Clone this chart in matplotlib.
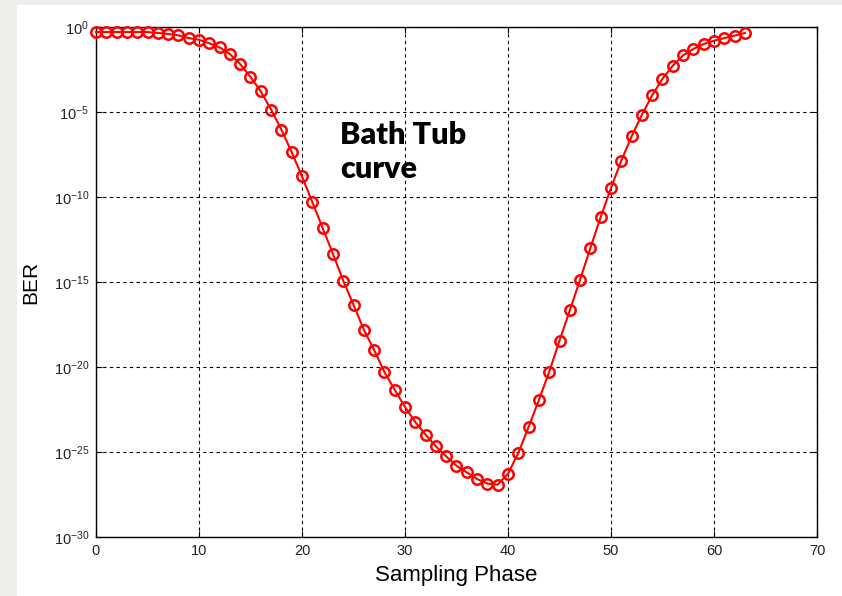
import numpy as np
import matplotlib
matplotlib.use("Agg")
import matplotlib.pyplot as plt
from matplotlib.patches import Rectangle

# sampling phase index and log10(BER)
phase = list(range(64))
log_ber = [-0.30, -0.30, -0.30, -0.30, -0.30, -0.30, -0.35, -0.41, -0.49, -0.65,
           -0.75, -0.96, -1.20, -1.59, -2.18, -2.94, -3.79, -4.86, -6.04, -7.36,
           -8.79, -10.29, -11.82, -13.34, -14.92, -16.34, -17.80, -19.00, -20.29, -21.34,
           -22.35, -23.24, -23.98, -24.67, -25.26, -25.81, -26.20, -26.59, -26.86, -26.92,
           -26.28, -25.06, -23.53, -21.94, -20.29, -18.45, -16.67, -14.86, -13.00, -11.18,
           -9.47, -7.86, -6.43, -5.16, -4.02, -3.04, -2.28, -1.67, -1.29, -1.00,
           -0.81, -0.65, -0.51, -0.35]
ber = 10.0 ** np.array(log_ber)

xticks = [0, 10, 20, 30, 40, 50, 60, 70]
yticks = [1e-30, 1e-25, 1e-20, 1e-15, 1e-10, 1e-5, 1e0]
ytick_labels = [r"$10^{-30}$", r"$10^{-25}$", r"$10^{-20}$", r"$10^{-15}$",
                r"$10^{-10}$", r"$10^{-5}$", r"$10^{0}$"]

plt.rcParams['font.family'] = ['Liberation Sans', 'DejaVu Sans']
plt.rcParams['mathtext.fontset'] = 'custom'
plt.rcParams['mathtext.rm'] = 'Liberation Sans'
plt.rcParams['mathtext.it'] = 'Liberation Sans'
plt.rcParams['mathtext.default'] = 'regular'

fig = plt.figure(figsize=(8.42, 5.96), dpi=100, facecolor='#eeeeea')
# white slide panel behind the chart
fig.patches.append(Rectangle((17 / 842, 0), 1, 1 - 5 / 596, transform=fig.transFigure,
                             facecolor='white', edgecolor='none', zorder=-10))

ax = fig.add_axes([96 / 842, 1 - 537 / 596, 721 / 842, 510 / 596])
ax.set_yscale('log')
ax.plot(phase, ber, '-o', color='red', lw=1.5, ms=7.5, mfc='none', mew=1.8,
        clip_on=False, zorder=3)

ax.set_xlim(0, 70)
ax.set_ylim(1e-30, 1e0)
ax.set_xticks(xticks)
ax.set_xticklabels([str(t) for t in xticks], fontsize=10.5)
ax.set_yticks(yticks)
ax.set_yticklabels(ytick_labels, fontsize=10.5)
ax.minorticks_off()
ax.tick_params(direction='in', length=4, width=0.8, top=True, right=True,
               labelcolor='#222222', pad=5)
ax.grid(True, color='black', linestyle=(0, (3, 3)), linewidth=0.8)
for s in ax.spines.values():
    s.set_linewidth(1.0)

ax.set_xlabel('Sampling Phase', fontsize=16, labelpad=5)
ax.set_ylabel('BER', fontsize=15, labelpad=10)

ax.text(23.7, 10 ** -5.5, 'Bath Tub\ncurve', fontsize=22, fontweight='heavy',
        family=['Lato', 'DejaVu Sans'], va='top', ha='left', linespacing=1.3)

fig.savefig('out.png', dpi=100, facecolor=fig.get_facecolor())
